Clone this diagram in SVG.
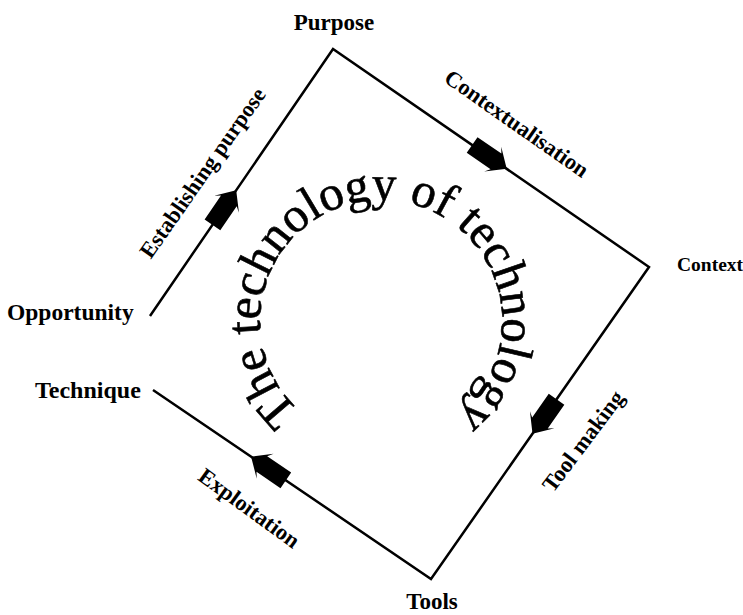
<svg xmlns="http://www.w3.org/2000/svg" width="743" height="615" viewBox="0 0 743 615">
<style>
.node{font-family:"Liberation Serif","Times New Roman",serif;font-weight:bold;font-size:23px;fill:#000}
.lbl{font-family:"Liberation Serif","Times New Roman",serif;font-weight:bold;font-size:22.5px;fill:#000}
.edge{fill:none;stroke:#000;stroke-width:2.5;stroke-linejoin:miter}
.title{font-family:"Liberation Serif","Times New Roman",serif;font-size:49px;fill:#000;stroke:#000;stroke-width:0.6}
</style>
<defs>
<polygon id="arr" points="0,0 -17,-15 -13,-9.5 -42,-9.5 -42,9.5 -13,9.5 -17,15" fill="#000"/>
<path id="circ" d="M 300 410.9 A 121 121 0 1 1 418.4 436.1"/>
</defs>
<rect width="743" height="615" fill="#fff"/>
<g id="connectors">
<polyline class="edge" points="150,316 333,49 649,267 431,579 153,390"/>
<use href="#arr" transform="translate(236.2,190.2) rotate(-55.57)"/>
<use href="#arr" transform="translate(506.7,168.8) rotate(34.6)"/>
<use href="#arr" transform="translate(532.5,433.7) rotate(124.94)"/>
<use href="#arr" transform="translate(251.1,456.7) rotate(214.21)"/>
<text class="lbl" text-anchor="middle" transform="translate(203,173) rotate(-55)" y="7">Establishing purpose</text>
<text class="lbl" text-anchor="middle" transform="translate(516.5,124) rotate(35)" y="7">Contextualisation</text>
<text class="lbl" text-anchor="middle" transform="translate(583.5,441.5) rotate(-53)" y="7">Tool making</text>
<text class="lbl" text-anchor="middle" transform="translate(249,508.5) rotate(36)" y="7">Exploitation</text>
</g>
<g id="purpose"><text class="node" x="334" y="30" text-anchor="middle">Purpose</text></g>
<g id="context"><text class="node" x="677" y="271" style="font-size:19.5px">Context</text></g>
<g id="opportunity"><text class="node" x="7" y="320" style="font-size:23.5px">Opportunity</text></g>
<g id="technique"><text class="node" x="35" y="398" style="font-size:24px">Technique</text></g>
<g id="tools"><text class="node" x="432" y="609" text-anchor="middle">Tools</text></g>
<g id="title"><text class="title"><textPath href="#circ">The technology of technology</textPath></text></g>
</svg>
